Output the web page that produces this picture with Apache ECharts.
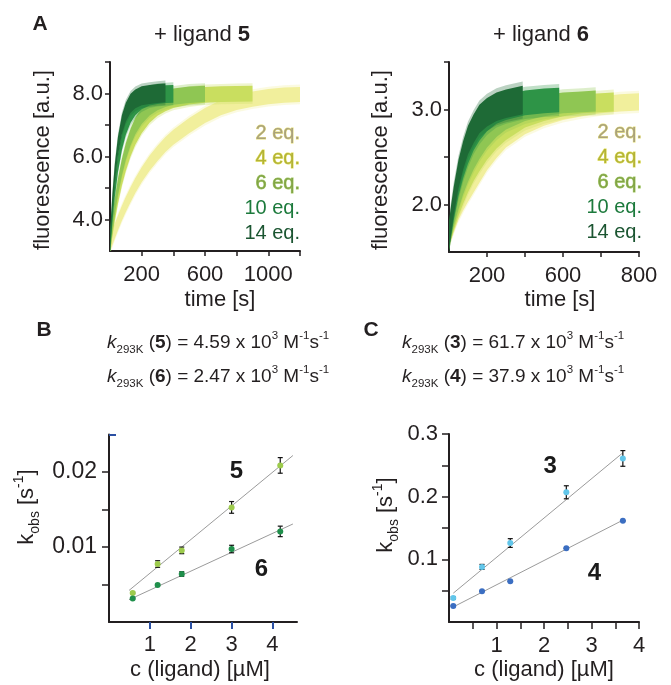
<!DOCTYPE html>
<html>
<head>
<meta charset="utf-8">
<script src="https://cdn.jsdelivr.net/npm/echarts@6/dist/echarts.min.js"></script>
<style>html,body{margin:0;padding:0;background:#fff}#c{width:671px;height:685px}</style>
</head>
<body>
<div id="c"></div>
<script>
// ---------- DATA ----------
// Panel A: band centres [time (s), fluorescence (a.u.)]
const eqLabels = ['2 eq.', '4 eq.', '6 eq.', '10 eq.', '14 eq.'];
const lig5_2eq = [[0,3.2],[15,3.42],[30,3.63],[50,3.89],[75,4.20],[100,4.48],[130,4.79],[160,5.08],[200,5.42],[250,5.79],[300,6.10],[350,6.38],[400,6.61],[500,6.98],[600,7.30],[700,7.55],[800,7.72],[900,7.82],[1000,7.90],[1100,7.95],[1200,7.97]];
const lig5_4eq = [[0,3.2],[15,3.73],[30,4.20],[50,4.75],[75,5.33],[100,5.80],[130,6.26],[160,6.62],[200,6.99],[250,7.32],[300,7.54],[350,7.69],[400,7.79],[500,7.90],[600,7.96],[700,7.98],[800,7.99],[900,8.0]];
const lig5_6eq = [[0,3.2],[15,3.84],[30,4.40],[50,5.03],[75,5.66],[100,6.16],[130,6.62],[160,6.97],[200,7.29],[250,7.56],[300,7.73],[350,7.83],[400,7.90],[500,7.96],[600,7.99]];
const lig5_10eq = [[0,3.2],[5,3.56],[15,4.19],[30,4.98],[50,5.78],[75,6.49],[100,6.97],[130,7.35],[160,7.59],[200,7.78],[250,7.90],[300,7.95],[350,7.98],[400,7.99]];
const lig5_14eq = [[0,3.2],[5,3.68],[15,4.50],[30,5.44],[50,6.32],[75,7.01],[100,7.41],[130,7.69],[160,7.83],[200,7.93],[250,7.97],[300,8.0],[350,8.02]];
const spread5 = [0.24, 0.25, 0.26, 0.28, 0.30];

const lig6_2eq = [[0,1.66],[10,1.72],[25,1.80],[50,1.93],[75,2.03],[100,2.12],[130,2.22],[160,2.32],[200,2.45],[250,2.58],[300,2.69],[400,2.83],[500,2.92],[600,2.98],[700,3.02],[800,3.05],[900,3.07],[1000,3.08]];
const lig6_4eq = [[0,1.66],[10,1.73],[25,1.83],[50,1.98],[75,2.11],[100,2.23],[130,2.35],[160,2.45],[200,2.57],[250,2.69],[300,2.78],[400,2.91],[500,2.98],[600,3.03],[700,3.06],[800,3.07],[867,3.08]];
const lig6_6eq = [[0,1.66],[10,1.75],[25,1.88],[50,2.06],[75,2.22],[100,2.35],[130,2.48],[160,2.59],[200,2.71],[250,2.82],[300,2.90],[400,2.99],[500,3.04],[600,3.07],[700,3.08],[772,3.09]];
const lig6_10eq = [[0,1.66],[10,1.79],[25,1.97],[50,2.22],[75,2.41],[100,2.56],[130,2.70],[160,2.80],[200,2.90],[250,2.98],[300,3.02],[400,3.07],[500,3.09],[580,3.10]];
const lig6_14eq = [[0,1.66],[10,1.83],[25,2.04],[50,2.32],[75,2.52],[100,2.68],[130,2.80],[160,2.90],[200,2.97],[250,3.03],[300,3.06],[388,3.10]];
const spread6 = [0.09, 0.10, 0.11, 0.13, 0.15];

// Panel A tick labels
const xLabA5 = [200, 600, 1000];
const yLabA5 = [4, 6, 8];
const xPosA6 = [200, 600, 1000];
const xLabA6 = ['200', '600', '800'];
const yLabA6 = [2, 3];

// Panel B: c (ligand) [uM] vs kobs [s-1]
const concB = [0.58, 1.19, 1.78, 3.0, 4.19];
const kobsB5 = [0.00387, 0.00773, 0.00955, 0.01528, 0.02088];
const errB5 = [0.0001, 0.00044, 0.00044, 0.00078, 0.00104];
const kobsB6 = [0.00315, 0.00493, 0.0064, 0.00973, 0.01208];
const errB6 = [0.0001, 0.0001, 0.0003, 0.0005, 0.0007];
const fitB5 = [[0.49, 0.00421], [4.5, 0.0222]];
const fitB6 = [[0.49, 0.00297], [4.5, 0.01307]];
const tagsB = [['5', 3.12, 0.0201], ['6', 3.73, 0.00697]];

// Panel C
const concC = [0.09, 0.695, 1.29, 2.47, 3.66];
const kobsC3 = [0.0383, 0.0879, 0.126, 0.207, 0.261];
const errC3 = [0.002, 0.004, 0.007, 0.0104, 0.0125];
const kobsC4 = [0.0256, 0.049, 0.065, 0.1177, 0.1614];
const errC4 = [0, 0, 0, 0, 0];
const fitC3 = [[0.09, 0.046], [3.66, 0.270]];
const fitC4 = [[0.09, 0.024], [3.66, 0.1625]];
const tagsC = [['3', 2.13, 0.249], ['4', 3.06, 0.0773]];

// ---------- STYLE ----------
const FONT = '"Liberation Sans", Arial, Helvetica, sans-serif';
const INK = '#231f20';
const bandColors = ['#f1ef9c', '#c9de5f', '#8fc653', '#2e9447', '#1e6a36'];
const legendFill = ['#aaa27a', '#b3b336', '#82a545', '#1c7a3c', '#1b5531'];
const legendStroke = ['#e6df72', '#e2e05a', '#a6cc6a', null, null];

const chart = echarts.init(document.getElementById('c'), null, {renderer: 'canvas'});

function band(ax, pts, hw, color, opacity, z) {
  return {
    type: 'custom', xAxisIndex: ax, yAxisIndex: ax, clip: true, silent: true, z: z,
    data: [[pts[0][0], pts[0][1]]],
    renderItem: function (params, api) {
      const up = pts.map(p => api.coord([p[0], p[1] + hw]));
      const lo = pts.slice().reverse().map(p => api.coord([p[0], p[1] - hw]));
      return {type: 'polygon', shape: {points: up.concat(lo)}, style: {fill: color, opacity: opacity}};
    }
  };
}
function errBars(ax, xs, ys, es) {
  return {
    type: 'custom', xAxisIndex: ax, yAxisIndex: ax, silent: true, z: 3,
    data: xs.map((x, i) => [x, ys[i], es[i]]),
    renderItem: function (params, api) {
      const x = api.value(0), y = api.value(1), e = api.value(2);
      const a = api.coord([x, y + e]), b = api.coord([x, y - e]);
      const st = {stroke: '#111', lineWidth: 1.2};
      return {type: 'group', children: [
        {type: 'line', shape: {x1: a[0], y1: a[1], x2: b[0], y2: b[1]}, style: st},
        {type: 'line', shape: {x1: a[0] - 2.5, y1: a[1], x2: a[0] + 2.5, y2: a[1]}, style: st},
        {type: 'line', shape: {x1: b[0] - 2.5, y1: b[1], x2: b[0] + 2.5, y2: b[1]}, style: st}
      ]};
    }
  };
}
function dots(ax, xs, ys, color) {
  return {type: 'scatter', xAxisIndex: ax, yAxisIndex: ax, symbolSize: 6, z: 5, silent: true,
    itemStyle: {color: color, opacity: 1}, data: xs.map((x, i) => [x, ys[i]])};
}
function fit(ax, pts) {
  return {type: 'line', xAxisIndex: ax, yAxisIndex: ax, symbol: 'none', z: 2, silent: true,
    lineStyle: {color: '#9b9b9b', width: 1}, data: pts};
}
function tags(ax, list) {
  return {type: 'scatter', xAxisIndex: ax, yAxisIndex: ax, symbolSize: 0, z: 6, silent: true,
    itemStyle: {color: INK, opacity: 0},
    label: {show: true, position: 'inside', formatter: p => p.data[2], fontFamily: FONT,
      fontSize: 24, fontWeight: 'bold', color: '#1a1a1a', opacity: 1, textBorderWidth: 0},
    data: list.map(t => [t[1], t[2], t[0]])};
}
function axis(extra) {
  const base = {
    type: 'value', splitLine: {show: false},
    axisLine: {show: true, onZero: false, lineStyle: {color: INK, width: 2}},
    axisTick: {show: true, length: 5, lineStyle: {color: INK, width: 1.5}},
    axisLabel: {fontFamily: FONT, fontSize: 22, color: INK}
  };
  const o = Object.assign({}, base, extra);
  o.axisTick = Object.assign({}, base.axisTick, extra.axisTick || {});
  o.axisLabel = Object.assign({}, base.axisLabel, extra.axisLabel || {});
  return o;
}

const series = [];
const sets5 = [lig5_2eq, lig5_4eq, lig5_6eq, lig5_10eq, lig5_14eq];
const sets6 = [lig6_2eq, lig6_4eq, lig6_6eq, lig6_10eq, lig6_14eq];
sets5.forEach((s, i) => {
  series.push(band(0, s, spread5[i] * 1.3, bandColors[i], 0.3, 1));
  series.push(band(0, s, spread5[i], bandColors[i], 1, 1));
});
sets6.forEach((s, i) => {
  series.push(band(1, s, spread6[i] * 1.3, bandColors[i], 0.3, 1));
  series.push(band(1, s, spread6[i], bandColors[i], 1, 1));
});
series.push(fit(2, fitB5), fit(2, fitB6));
series.push(errBars(2, concB, kobsB5, errB5), errBars(2, concB, kobsB6, errB6));
series.push(dots(2, concB, kobsB5, '#9dcb4c'), dots(2, concB, kobsB6, '#1f8f4b'));
series.push(tags(2, tagsB));
series.push(fit(3, fitC3), fit(3, fitC4));
series.push(errBars(3, concC, kobsC3, errC3), errBars(3, concC, kobsC4, errC4));
series.push(dots(3, concC, kobsC3, '#62c6ea'), dots(3, concC, kobsC4, '#3b6ec2'));
series.push(tags(3, tagsC));

// text helpers
function txt(x, y, text, o) {
  o = o || {};
  return {type: 'text', x: x, y: y, rotation: o.rot || 0, z: 100, silent: true,
    style: Object.assign({text: text, fontFamily: FONT, fontSize: 22, fill: INK,
      align: o.align || 'center', textAlign: o.align || 'center',
      verticalAlign: 'middle', textVerticalAlign: 'middle'}, o.style || {})};
}
const rich = {
  n: {fontFamily: FONT, fontSize: 19, lineHeight: 26, verticalAlign: 'middle', fill: INK},
  k: {fontFamily: FONT, fontSize: 19, fontStyle: 'italic', lineHeight: 26, verticalAlign: 'middle', fill: INK},
  b: {fontFamily: FONT, fontSize: 19, fontWeight: 'bold', lineHeight: 26, verticalAlign: 'middle', fill: INK},
  sub: {fontFamily: FONT, fontSize: 11.5, lineHeight: 13, verticalAlign: 'bottom', fill: INK},
  sup: {fontFamily: FONT, fontSize: 11.5, lineHeight: 14, verticalAlign: 'top', fill: INK}
};
const richAx = {
  n: {fontFamily: FONT, fontSize: 22, lineHeight: 30, verticalAlign: 'middle', fill: INK},
  sub: {fontFamily: FONT, fontSize: 14, lineHeight: 16, verticalAlign: 'bottom', fill: INK},
  sup: {fontFamily: FONT, fontSize: 14, lineHeight: 16, verticalAlign: 'top', fill: INK}
};
function hdr(x, y, num, val) {
  return txt(x, y, '{k|k}{sub|293K}{n| (}{b|' + num + '}{n|) = ' + val + ' x 10}{sup|3}{n| M}{sup|-1}{n|s}{sup|-1}',
    {align: 'left', style: {rich: rich}});
}
const titleRich = {n: {fontFamily: FONT, fontSize: 22, fill: INK}, b: {fontFamily: FONT, fontSize: 22, fontWeight: 'bold', fill: INK}};
const graphics = [
  txt(40, 24, 'A', {style: {fontWeight: 'bold', fontSize: 21}}),
  txt(44, 330, 'B', {style: {fontWeight: 'bold', fontSize: 21}}),
  txt(371, 330, 'C', {style: {fontWeight: 'bold', fontSize: 21}}),
  txt(202, 35, '{n|+ ligand }{b|5}', {style: {rich: titleRich}}),
  txt(541, 35, '{n|+ ligand }{b|6}', {style: {rich: titleRich}}),
  txt(43, 160, 'fluorescence [a.u.]', {rot: Math.PI / 2}),
  txt(381, 160, 'fluorescence [a.u.]', {rot: Math.PI / 2}),
  txt(220, 300, 'time [s]'),
  txt(560, 300, 'time [s]'),
  txt(200, 670, 'c (ligand) [µM]'),
  txt(544, 670, 'c (ligand) [µM]'),
  txt(27, 507, '{n|k}{sub|obs}{n| [s}{sup|-1}{n|]}', {rot: Math.PI / 2, style: {rich: richAx}}),
  txt(386, 515, '{n|k}{sub|obs}{n| [s}{sup|-1}{n|]}', {rot: Math.PI / 2, style: {rich: richAx}}),
  hdr(107, 343, '5', '4.59'),
  hdr(107, 377, '6', '2.47'),
  hdr(402, 343, '3', '61.7'),
  hdr(402, 377, '4', '37.9')
];
const legYs = [133, 158, 183, 208, 233];
eqLabels.forEach((t, i) => {
  const st = {fontSize: 20, fill: legendFill[i]};
  if (legendStroke[i]) { st.stroke = legendStroke[i]; st.lineWidth = 0.8; }
  graphics.push(txt(300, legYs[i], t, {align: 'right', style: st}));
  graphics.push(txt(642, legYs[i] - 1, t, {align: 'right', style: Object.assign({}, st)}));
});

chart.setOption({
  animation: false,
  backgroundColor: '#fff',
  grid: [
    {left: 110, top: 62, width: 190, height: 189},
    {left: 449, top: 62, width: 190, height: 190},
    {left: 109, top: 434.5, width: 188, height: 187.5},
    {left: 449, top: 434, width: 190, height: 188}
  ],
  xAxis: [
    axis({gridIndex: 0, min: 0, max: 1200, interval: 200,
      axisTick: {customValues: [200, 400, 600, 800, 1000, 1200]},
      axisLabel: {customValues: xLabA5, margin: 13, formatter: v => String(v)}}),
    axis({gridIndex: 1, min: 0, max: 1000, interval: 200,
      axisTick: {customValues: [200, 400, 600, 800, 1000]},
      axisLabel: {customValues: xPosA6, margin: 13, formatter: v => xLabA6[xPosA6.indexOf(v)]}}),
    axis({gridIndex: 2, min: 0, max: 4.6, interval: 1,
      axisTick: {customValues: [1, 2, 3, 4], length: 7, lineStyle: {color: '#2b50a3', width: 2}},
      axisLabel: {customValues: [1, 2, 3, 4], margin: 12}}),
    axis({gridIndex: 3, min: 0, max: 4, interval: 0.5,
      axisTick: {customValues: [0.5, 1, 1.5, 2, 2.5, 3, 3.5, 4], length: 7},
      axisLabel: {customValues: [1, 2, 3, 4], margin: 13}})
  ],
  yAxis: [
    axis({gridIndex: 0, min: 3, max: 9, interval: 1,
      axisTick: {customValues: [4, 5, 6, 7, 8, 9]},
      axisLabel: {customValues: yLabA5, margin: 7, formatter: v => v.toFixed(1)}}),
    axis({gridIndex: 1, min: 1.5, max: 3.5, interval: 0.5,
      axisTick: {customValues: [2, 2.5, 3, 3.5]},
      axisLabel: {customValues: yLabA6, margin: 7, formatter: v => v.toFixed(1)}}),
    axis({gridIndex: 2, min: 0, max: 0.025, interval: 0.005,
      axisTick: {customValues: [0.005, 0.01, 0.015, 0.02], length: 7},
      axisLabel: {customValues: [0.01, 0.02], margin: 12, fontSize: 23, formatter: v => v.toFixed(2)}}),
    axis({gridIndex: 3, min: 0, max: 0.3, interval: 0.05,
      axisTick: {customValues: [0.05, 0.1, 0.15, 0.2, 0.25, 0.3], length: 7},
      axisLabel: {customValues: [0.1, 0.2, 0.3], margin: 11, formatter: v => v.toFixed(1)}}),
    axis({gridIndex: 2, min: 0, max: 0.025, interval: 0.005, axisLine: {show: false},
      axisTick: {customValues: [0.025], length: 7, lineStyle: {color: '#2b50a3', width: 2}},
      axisLabel: {show: false}})
  ],
  series: series,
  graphic: graphics
});
</script>
</body>
</html>
